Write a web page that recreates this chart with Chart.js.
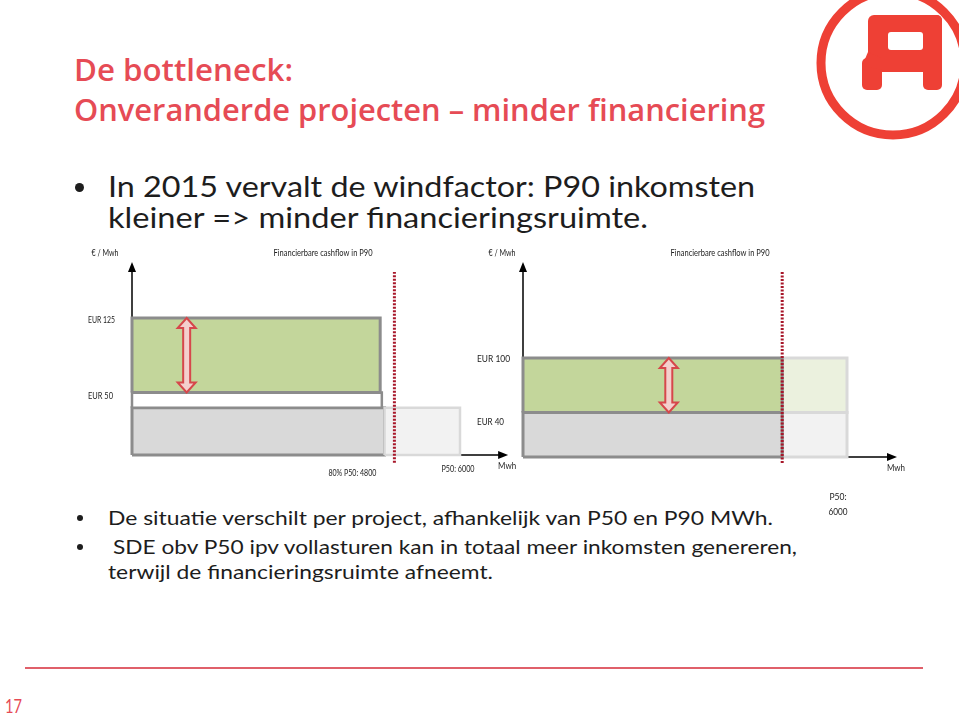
<!DOCTYPE html>
<html>
<head>
<meta charset="utf-8">
<script src="https://cdn.jsdelivr.net/npm/chart.js@4"></script>
<style>
  body { margin: 0; background: #fff; }
  #slide { position: relative; width: 959px; height: 719px; overflow: hidden; font-family: Lato, "Open Sans", sans-serif; }
  .t { position: absolute; white-space: nowrap; transform-origin: left center; }
  .title { color: #e64b55; font-family: "Open Sans", Lato, sans-serif; font-size: 30px; font-weight: 600; line-height: 36px; }
  .big { color: #1d1d1d; font-size: 28px; line-height: 31px; }
  .small { color: #1d1d1d; font-size: 20px; line-height: 25px; }
  .dot { position: absolute; border-radius: 50%; background: #1d1d1d; }
  canvas { position: absolute; }
</style>
</head>
<body>
<div id="slide">
  <svg width="959" height="719" style="position:absolute;left:0;top:0">
    <circle cx="893" cy="63" r="72" fill="none" stroke="#ee4035" stroke-width="9"/>
    <rect x="868" y="15" width="74" height="57" rx="6" fill="#ee4035"/>
    <rect x="888" y="32" width="35" height="18" rx="3" fill="#fff"/>
    <rect x="923" y="15" width="19" height="75" rx="5" fill="#ee4035"/>
    <rect x="862" y="58" width="20" height="32" rx="5" fill="#ee4035"/>
    <polygon points="868,52 882,58 882,70 862,66" fill="#ee4035"/>
    <line x1="25" y1="668" x2="923" y2="668" stroke="#e0606a" stroke-width="2"/>
  </svg>

  <div class="t title" style="left:74px;top:52px" data-w="219">De bottleneck:</div>
  <div class="t title" style="left:74px;top:92px" data-w="691">Onveranderde projecten – minder financiering</div>

  <div class="dot" style="left:75px;top:183px;width:9px;height:9px"></div>
  <div class="t big" style="left:108px;top:171px" data-w="647">In 2015 vervalt de windfactor: P90 inkomsten</div>
  <div class="t big" style="left:108px;top:202px" data-w="540">kleiner =&gt; minder financieringsruimte.</div>

  <div class="dot" style="left:77px;top:515px;width:6px;height:6px"></div>
  <div class="t small" style="left:108px;top:505px" data-w="665">De situatie verschilt per project, afhankelijk van P50 en P90 MWh.</div>
  <div class="dot" style="left:77px;top:544px;width:6px;height:6px"></div>
  <div class="t small" style="left:113px;top:534px" data-w="684">SDE obv P50 ipv vollasturen kan in totaal meer inkomsten genereren,</div>
  <div class="t small" style="left:108px;top:559px" data-w="385">terwijl de financieringsruimte afneemt.</div>

  <div class="t" style="left:5px;top:694px;color:#e64b55;font-size:19px;line-height:24px" data-w="17">17</div>

  <canvas id="right" width="450" height="290" style="left:470px;top:240px"></canvas>
  <canvas id="left" width="470" height="260" style="left:60px;top:240px"></canvas>
</div>

<script>
// ---- left diagram: financing on current SDE (full-load hours) ----
const leftTickValues = [125, 50];
const leftTickLabels = ['EUR 125', 'EUR 50'];
const leftXTickValues = [4800, 6000];
const leftXTickLabels = ['80% P50: 4800', 'P50: 6000'];
// blocks as [mwhFrom, mwhTo, eurFrom, eurTo]
const leftBase = [0, 4620, 0, 43];
const leftBaseP50 = [4620, 6000, 0, 43];
const leftGap = [0, 4570, 43, 57];
const leftFinanced = [0, 4540, 57, 125];
const leftP90 = 4800;
const leftArrow = [1000, 57, 125];

// ---- right diagram: SDE based on P50 ----
const rightTickValues = [100, 40];
const rightTickLabels = ['EUR 100', 'EUR 40'];
const rightXTickValues = [6000];
const rightXTickLabels = [['P50:', '6000']];
const rightBase = [0, 4800, 0, 45];
const rightBaseP50 = [4800, 6000, 0, 45];
const rightFinanced = [0, 4800, 45, 100];
const rightFinancedP50 = [4800, 6000, 45, 100];
const rightP90 = 4800;
const rightArrow = [2700, 45, 100];

const DARK = '#8c8c8c', LIGHT = '#d9d9d9';
const FONT = '8.5px Lato, "Open Sans", sans-serif';

function rect(b) {
  return [
    {x: b[0], y: b[2]}, {x: b[1], y: b[2]}, {x: b[1], y: b[3]},
    {x: b[0], y: b[3]}, {x: b[0], y: b[2]}
  ];
}

function block(b, fill, border, width, order) {
  return {
    data: rect(b), showLine: true, fill: 'shape', backgroundColor: fill,
    borderColor: border, borderWidth: width, borderJoinStyle: 'miter',
    pointRadius: 0, order: order, clip: false
  };
}

function dotted(x, y0, y1) {
  return {
    data: [{x: x, y: y0}, {x: x, y: y1}], showLine: true, fill: false,
    borderColor: '#a8172a', borderWidth: 3, borderDash: [2, 1.5],
    pointRadius: 0, order: 0, clip: false
  };
}

function text(ctx, s, x, y, align, maxW) {
  ctx.save();
  ctx.font = FONT;
  ctx.fillStyle = '#222';
  ctx.textAlign = align;
  ctx.textBaseline = 'middle';
  ctx.fillText(s, x, y, maxW);
  ctx.restore();
}

function arrowHead(ctx, x, y, dir) {
  ctx.beginPath();
  if (dir === 'up') {
    ctx.moveTo(x, y); ctx.lineTo(x - 4, y + 10); ctx.lineTo(x + 4, y + 10);
  } else {
    ctx.moveTo(x, y); ctx.lineTo(x - 10, y - 4); ctx.lineTo(x - 10, y + 4);
  }
  ctx.closePath();
  ctx.fill();
}

function doubleArrow(ctx, cx, yt, yb) {
  const hw = 9, sw = 3.5, hh = 10;
  ctx.save();
  ctx.beginPath();
  ctx.moveTo(cx, yt);
  ctx.lineTo(cx + hw, yt + hh);
  ctx.lineTo(cx + sw, yt + hh);
  ctx.lineTo(cx + sw, yb - hh);
  ctx.lineTo(cx + hw, yb - hh);
  ctx.lineTo(cx, yb);
  ctx.lineTo(cx - hw, yb - hh);
  ctx.lineTo(cx - sw, yb - hh);
  ctx.lineTo(cx - sw, yt + hh);
  ctx.lineTo(cx - hw, yt + hh);
  ctx.closePath();
  ctx.fillStyle = '#f4cfcd';
  ctx.fill();
  ctx.strokeStyle = '#d6474b';
  ctx.lineWidth = 2;
  ctx.stroke();
  ctx.restore();
}

function makeChart(id, cfg) {
  const axesPlugin = {
    id: 'axes',
    beforeDatasetsDraw(chart) {
      const ctx = chart.ctx, x = chart.scales.x, y = chart.scales.y;
      const x0 = x.getPixelForValue(0), y0 = y.getPixelForValue(0);
      const yTop = y.getPixelForValue(cfg.yAxisEnd);
      const xEnd = x.getPixelForValue(cfg.xAxisEnd);
      ctx.save();
      ctx.strokeStyle = '#000';
      ctx.fillStyle = '#000';
      ctx.lineWidth = 1.5;
      ctx.beginPath();
      ctx.moveTo(x0, y0); ctx.lineTo(x0, yTop + 8);
      ctx.moveTo(x0, y0); ctx.lineTo(xEnd - 8, y0);
      ctx.stroke();
      arrowHead(ctx, x0, yTop, 'up');
      arrowHead(ctx, xEnd, y0, 'right');
      ctx.restore();
    },
    afterDatasetsDraw(chart) {
      const ctx = chart.ctx, x = chart.scales.x, y = chart.scales.y;
      const x0 = x.getPixelForValue(0), y0 = y.getPixelForValue(0);
      const a = cfg.arrow;
      doubleArrow(ctx, x.getPixelForValue(a[0]), y.getPixelForValue(a[2]), y.getPixelForValue(a[1]));
      // y tick labels
      cfg.yTicks.forEach((v, i) => {
        text(ctx, cfg.yLabels[i], x0 + cfg.yLabelDx, y.getPixelForValue(v) + cfg.yLabelDy[i], 'left', cfg.yLabelW[i]);
      });
      // x tick labels
      cfg.xTicks.forEach((v, i) => {
        const lab = cfg.xLabels[i];
        const lines = Array.isArray(lab) ? lab : [lab];
        lines.forEach((s, j) => {
          text(ctx, s, x.getPixelForValue(v) + cfg.xLabelDx[i], y0 + cfg.xLabelDy[i] + j * 15, cfg.xAlign[i], cfg.xLabelW[i]);
        });
      });
      // axis titles
      const yTop = y.getPixelForValue(cfg.yAxisEnd);
      text(ctx, '€ / Mwh', x0 + cfg.unitDx, yTop - 9, 'center', 27);
      text(ctx, 'Mwh', x.getPixelForValue(cfg.xAxisEnd) - 1, y0 + 11, 'center', 18);
      text(ctx, 'Financierbare cashflow in P90', x0 + cfg.titleDx, yTop - 9, 'center', 99);
    }
  };

  return new Chart(document.getElementById(id), {
    type: 'scatter',
    data: { datasets: cfg.datasets },
    options: {
      responsive: false,
      animation: false,
      events: [],
      layout: { padding: cfg.padding },
      scales: {
        x: { type: 'linear', min: 0, max: 6000, display: false },
        y: { type: 'linear', min: 0, max: cfg.yMax, display: false }
      },
      plugins: { legend: { display: false }, tooltip: { enabled: false } }
    },
    plugins: [axesPlugin]
  });
}

makeChart('left', {
  padding: { left: 72, right: 70, top: 78, bottom: 45 },
  yMax: 125,
  yAxisEnd: 176,
  xAxisEnd: 6880,
  arrow: leftArrow,
  yTicks: leftTickValues, yLabels: leftTickLabels,
  yLabelDx: -44, yLabelDy: [2, -4], yLabelW: [27, 25],
  xTicks: leftXTickValues, xLabels: leftXTickLabels,
  xLabelDx: [-18, -2], xLabelDy: [18, 14], xAlign: ['right', 'center'], xLabelW: [48, 33],
  unitDx: -27, titleDx: 191,
  datasets: [
    dotted(leftP90, -7, 167),
    block(leftFinanced, '#c3d69b', DARK, 3, 2),
    block(leftGap, '#ffffff', DARK, 2.5, 3),
    block(leftBaseP50, '#f2f2f2', LIGHT, 2.5, 4),
    block(leftBase, '#d9d9d9', DARK, 3, 5)
  ]
});

makeChart('right', {
  padding: { left: 53, right: 73, top: 118, bottom: 73 },
  yMax: 100,
  yAxisEnd: 197,
  xAxisEnd: 6926,
  arrow: rightArrow,
  yTicks: rightTickValues, yLabels: rightTickLabels,
  yLabelDx: -46, yLabelDy: [1, 5], yLabelW: [33, 27],
  xTicks: rightXTickValues, xLabels: rightXTickLabels,
  xLabelDx: [-9], xLabelDy: [40], xAlign: ['center'], xLabelW: [19],
  unitDx: -21, titleDx: 197,
  datasets: [
    dotted(rightP90, -6, 187),
    block(rightFinanced, '#c3d69b', DARK, 3, 2),
    block(rightFinancedP50, '#ebf1de', LIGHT, 3, 3),
    block(rightBase, '#d9d9d9', DARK, 3, 4),
    block(rightBaseP50, '#f2f2f2', LIGHT, 3, 5)
  ]
});

document.fonts.ready.then(() => {
  document.querySelectorAll('[data-w]').forEach(el => {
    const w = el.getBoundingClientRect().width;
    el.style.transform = 'scaleX(' + (el.dataset.w / w) + ')';
  });
});
</script>
</body>
</html>
